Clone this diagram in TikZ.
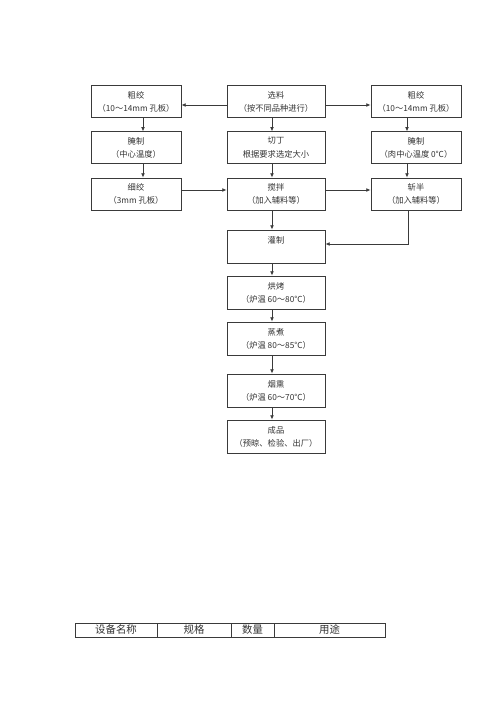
\documentclass[tikz,border=0pt]{standalone}
\usepackage{fontspec}
\setmainfont{Noto Sans CJK SC}
\usetikzlibrary{arrows.meta}
\definecolor{ln}{HTML}{3A3A3A}
\definecolor{tx}{HTML}{333333}
\begin{document}
\begin{tikzpicture}[x=0.75pt,y=-0.75pt,
  box/.style={draw=ln,line width=0.6pt,rectangle,inner sep=0pt,align=center,text=tx,
    font=\fontsize{6.2}{9.8}\selectfont,minimum height=23.5pt},
  sidebox/.style={box,minimum width=67.5pt},
  midbox/.style={box,minimum width=73.5pt},
  arr/.style={draw=ln,line width=0.6pt,-{Latex[length=3.2pt,width=2.8pt]}},
  cell/.style={text=tx,font=\fontsize{7.8}{9}\selectfont,inner sep=0pt}]
\useasboundingbox (0,0) rectangle (500,707);
\fill[white] (0,0) rectangle (500,707);
% row 1
\node[sidebox] (l1) at (136,101.5) {粗绞\\（10～14mm 孔板）};
\node[midbox] (c1) at (276,101.5) {选料\\（按不同品种进行）};
\node[sidebox] (r1) at (416,101.5) {粗绞\\（10～14mm 孔板）};
% row 2
\node[sidebox] (l2) at (136,147.5) {腌制\\（中心温度）};
\node[midbox] (c2) at (276,147.5) {切丁\\根据要求选定大小};
\node[sidebox] (r2) at (416,147.5) {腌制\\（肉中心温度 0℃）};
% row 3
\node[sidebox,minimum height=24pt] (l3) at (136,194) {细绞\\（3mm 孔板）};
\node[midbox,minimum height=24pt] (c3) at (276,194) {搅拌\\（加入辅料等）};
\node[sidebox,minimum height=24pt] (r3) at (416,194) {斩半\\（加入辅料等）};
% centre column
\node[midbox,minimum height=24.75pt] (g) at (276,246.5) {灌制\\\phantom{灌制}};
\node[midbox,minimum height=24.75pt] (h) at (276,292.5) {烘烤\\（炉温 60～80℃）};
\node[midbox,minimum height=24.75pt] (z) at (276,338.5) {蒸煮\\（炉温 80～85℃）};
\node[midbox,minimum height=24.75pt] (y) at (276,390.5) {烟熏\\（炉温 60～70℃）};
\node[midbox,minimum height=24.75pt] (p) at (276,436.5) {成品\\（预晾、检验、出厂）};
% helper coordinates
\coordinate (xl) at (143,0);
\coordinate (xc) at (272,0);
\coordinate (xr) at (407,0);
\coordinate (ya) at (0,105);
\coordinate (yb) at (0,190);
\coordinate (yg) at (0,244);
\coordinate (corner) at (408,244);
% horizontal arrows
\draw[arr] (c1.west |- ya) -- (l1.east |- ya);
\draw[arr] (c1.east |- ya) -- (r1.west |- ya);
\draw[arr] (l3.east |- yb) -- (c3.west |- yb);
\draw[arr] (c3.east |- yb) -- (r3.west |- yb);
% vertical arrows
\draw[arr] (l1.south -| xl) -- (l2.north -| xl);
\draw[arr] (l2.south -| xl) -- (l3.north -| xl);
\draw[arr] (c1.south -| xc) -- (c2.north -| xc);
\draw[arr] (c2.south -| xc) -- (c3.north -| xc);
\draw[arr] (r1.south -| xr) -- (r2.north -| xr);
\draw[arr] (r2.south -| xr) -- (r3.north -| xr);
\draw[arr] (c3.south -| xc) -- (g.north -| xc);
\draw[arr] (g.south -| xc) -- (h.north -| xc);
\draw[arr] (h.south -| xc) -- (z.north -| xc);
\draw[arr] (z.south -| xc) -- (y.north -| xc);
\draw[arr] (y.south -| xc) -- (p.north -| xc);
\draw[arr] (r3.south -| corner) -- (corner) -- (g.east |- yg);
% table
\draw[ln,line width=0.6pt] (75,623) rectangle (385,637);
\draw[ln,line width=0.6pt] (157,623) -- (157,637) (231,623) -- (231,637) (274,623) -- (274,637);
\node[cell] (t1) at (116,630) {设备名称};
\node[cell] (t2) at (194,630) {规格};
\node[cell] (t3) at (252.5,630) {数量};
\node[cell] (t4) at (329.5,630) {用途};
\end{tikzpicture}
\end{document}
